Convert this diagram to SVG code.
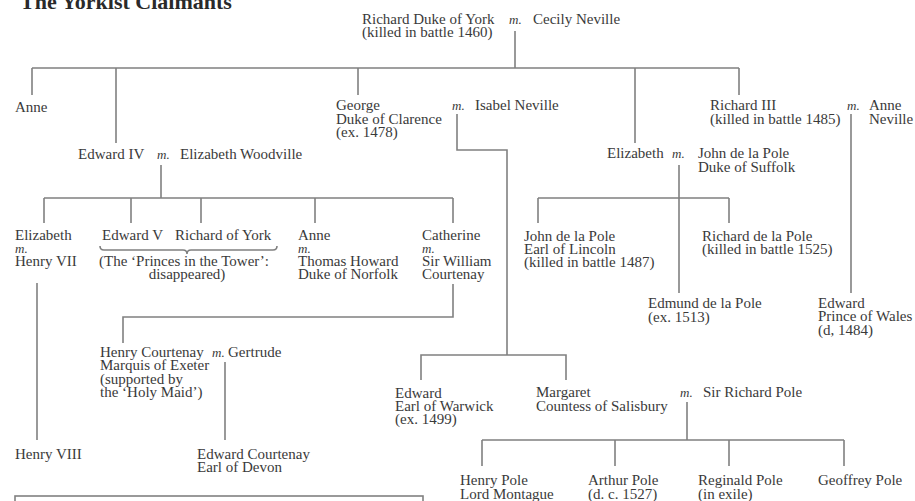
<svg xmlns="http://www.w3.org/2000/svg" width="915" height="501" viewBox="0 0 915 501">
<style>
text{font-family:"Liberation Serif","Times New Roman",serif;font-size:15px;fill:#3a3a3a}
.t{font-weight:bold;font-size:22px;fill:#2a2a2a}
.m{font-style:italic;font-size:13px}
.c{text-anchor:middle}
#connectors path,#connectors rect{fill:none;stroke:#808080;stroke-width:1.6}
</style>
<rect width="915" height="501" fill="#fff"/>
<text class="t" x="20" y="9">The Yorkist Claimants</text>
<g id="connectors">
<path d="M515,31V68M32,68H739M32,68V95M116,68V143M358,68V95M635,68V143M739,68V95"/>
<path d="M457,114V150H507V355"/>
<path d="M161,165V198M44,198H453M44,198V223M131,198V223M201,198V223M315,198V223M453,198V223"/>
<path d="M679,165V293M538,198H729M538,198V223M729,198V223"/>
<path d="M851,114V293"/>
<path d="M37,283V440"/>
<path d="M453,284V317H123V343"/>
<path d="M225,362V440"/>
<path d="M421,380V355H566V380"/>
<path d="M687,402V440M482,440H844M482,440V466M615,440V466M729,440V466M844,440V466"/>
<path d="M100,246q0,4 4,4H183q4,0 4,4q0,-4 4,-4H273q4,0 4,-4"/>
<rect x="15" y="496" width="408" height="20"/>
</g>
<g id="richard-york"><text x="362" y="24">Richard Duke of York</text><text x="362" y="37">(killed in battle 1460)</text></g>
<g id="cecily"><text class="m" x="509" y="24">m.</text><text x="533" y="24">Cecily Neville</text></g>
<g id="anne1"><text x="15" y="112">Anne</text></g>
<g id="edward4"><text x="78" y="159">Edward IV</text></g>
<g id="woodville"><text class="m" x="157" y="159">m.</text><text x="180" y="159">Elizabeth Woodville</text></g>
<g id="george"><text x="336" y="110">George</text><text x="336" y="124">Duke of Clarence</text><text x="336" y="137">(ex. 1478)</text></g>
<g id="isabel"><text class="m" x="452" y="110">m.</text><text x="475" y="110">Isabel Neville</text></g>
<g id="richard3"><text x="710" y="110">Richard III</text><text x="710" y="124">(killed in battle 1485)</text></g>
<g id="anne-neville"><text class="m" x="847" y="110">m.</text><text x="869" y="110">Anne</text><text x="869" y="124">Neville</text></g>
<g id="elizabeth-york"><text x="607" y="158">Elizabeth</text></g>
<g id="john-suffolk"><text class="m" x="672" y="158">m.</text><text x="698" y="158">John de la Pole</text><text x="698" y="172">Duke of Suffolk</text></g>
<g id="elizabeth-h7"><text x="15" y="240">Elizabeth</text><text class="m" x="15" y="253">m.</text><text x="15" y="266">Henry VII</text></g>
<g id="edward5"><text x="102" y="240">Edward V</text></g>
<g id="richard-of-york"><text x="175" y="240">Richard of York</text></g>
<g id="princes"><text x="99" y="266">(The ‘Princes in the Tower’:</text><text class="c" x="187" y="279">disappeared)</text></g>
<g id="anne2"><text x="298" y="240">Anne</text><text class="m" x="298" y="253">m.</text><text x="298" y="266">Thomas Howard</text><text x="298" y="279">Duke of Norfolk</text></g>
<g id="catherine"><text x="422" y="240">Catherine</text><text class="m" x="422" y="253">m.</text><text x="422" y="266">Sir William</text><text x="422" y="279">Courtenay</text></g>
<g id="john-lincoln"><text x="524" y="241">John de la Pole</text><text x="524" y="254">Earl of Lincoln</text><text x="524" y="267">(killed in battle 1487)</text></g>
<g id="richard-pole"><text x="702" y="241">Richard de la Pole</text><text x="702" y="254">(killed in battle 1525)</text></g>
<g id="edmund"><text x="648" y="308">Edmund de la Pole</text><text x="648" y="322">(ex. 1513)</text></g>
<g id="edward-wales"><text x="818" y="308">Edward</text><text x="818" y="321">Prince of Wales</text><text x="818" y="335">(d, 1484)</text></g>
<g id="henry-courtenay"><text x="100" y="357">Henry Courtenay</text><text x="100" y="370">Marquis of Exeter</text><text x="100" y="384">(supported by</text><text x="100" y="397">the ‘Holy Maid’)</text></g>
<g id="gertrude"><text class="m" x="212" y="357">m.</text><text x="228" y="357">Gertrude</text></g>
<g id="henry8"><text x="15" y="459">Henry VIII</text></g>
<g id="edward-courtenay"><text x="197" y="459">Edward Courtenay</text><text x="197" y="472">Earl of Devon</text></g>
<g id="edward-warwick"><text x="395" y="398">Edward</text><text x="395" y="411">Earl of Warwick</text><text x="395" y="424">(ex. 1499)</text></g>
<g id="margaret"><text x="536" y="397">Margaret</text><text x="536" y="411">Countess of Salisbury</text></g>
<g id="sir-richard-pole"><text class="m" x="680" y="397">m.</text><text x="703" y="397">Sir Richard Pole</text></g>
<g id="henry-pole"><text x="460" y="485">Henry Pole</text><text x="460" y="499">Lord Montague</text></g>
<g id="arthur-pole"><text x="588" y="485">Arthur Pole</text><text x="588" y="499">(d. c. 1527)</text></g>
<g id="reginald-pole"><text x="698" y="485">Reginald Pole</text><text x="698" y="499">(in exile)</text></g>
<g id="geoffrey-pole"><text x="818" y="485">Geoffrey Pole</text></g>
</svg>
